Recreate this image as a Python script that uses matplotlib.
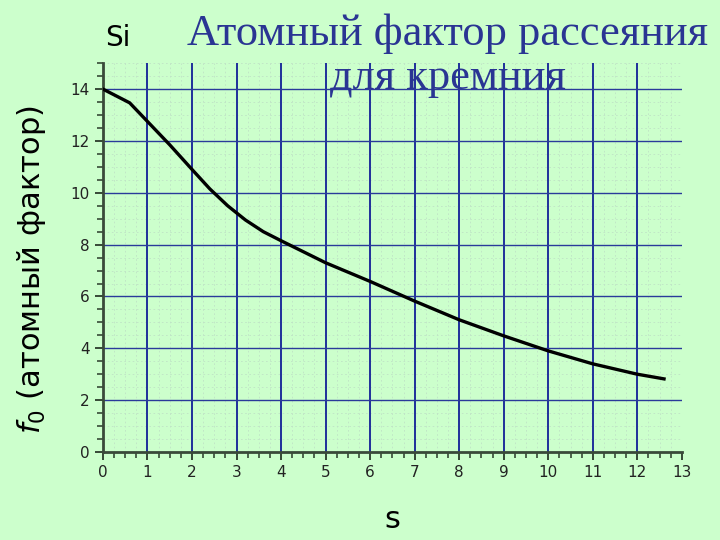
import matplotlib
matplotlib.use("Agg")
import matplotlib.pyplot as plt
from matplotlib.ticker import MultipleLocator
import numpy as np

s_vals = [0.0, 0.6, 1.0, 1.5, 2.0, 2.4, 2.8, 3.2, 3.6, 4.0, 5.0, 6.0, 7.0, 8.0, 9.0, 10.0, 11.0, 12.0, 12.6]
f0_vals = [14.0, 13.47, 12.75, 11.85, 10.9, 10.15, 9.5, 8.95, 8.5, 8.15, 7.3, 6.58, 5.82, 5.1, 4.48, 3.9, 3.4, 3.0, 2.82]

title_text = "Атомный фактор рассеяния\nдля кремния"
element_label = "Si"
x_label = "s"
y_label = r"$f_0$ (атомный фактор)"

bg = "#ccffcc"
fig = plt.figure(figsize=(7.2, 5.4), dpi=100, facecolor=bg)
ax = fig.add_axes([0.143, 0.163, 0.804, 0.72])
ax.set_facecolor(bg)
ax.set_axisbelow(True)

ax.plot(s_vals, f0_vals, color="black", lw=2.4, zorder=5, solid_joinstyle="round")

ax.set_xlim(0, 13)
ax.set_ylim(0, 15)
ax.xaxis.set_major_locator(MultipleLocator(1))
ax.xaxis.set_minor_locator(MultipleLocator(0.25))
ax.yaxis.set_major_locator(MultipleLocator(2))
ax.yaxis.set_minor_locator(MultipleLocator(0.5))

# faint minor grid (drawn by axis, below everything)
ax.grid(which="minor", color="#bfe3c6", lw=0.6, ls=(0, (2, 3)))

# major grid lines above the minor grid
for xv in ax.get_xticks():
    if 0 < xv <= 12:
        ax.axvline(xv, color="#1f2f9a", lw=1.4, zorder=2)
for yv in ax.get_yticks():
    if 0 < yv <= 14:
        ax.axhline(yv, color="#2a3a9a", lw=1.0, zorder=2)

for sp in ["top", "right"]:
    ax.spines[sp].set_visible(False)
for sp in ["left", "bottom"]:
    ax.spines[sp].set_color("#3a4a3a")
    ax.spines[sp].set_linewidth(2)
    ax.spines[sp].set_zorder(3)

ax.tick_params(which="major", direction="out", length=6, width=1.3, color="#2a3a2a",
               labelsize=11, labelcolor="#222222")
ax.tick_params(which="minor", direction="out", length=4, width=1.1, color="#2a3a2a")

ax.set_xlabel(x_label, fontsize=22, family="DejaVu Sans", labelpad=18)
ax.set_ylabel(y_label, fontsize=22, family="DejaVu Sans")
ax.yaxis.set_label_coords(-0.095, 0.47)

fig.text(0.163, 0.93, element_label, fontsize=20, family="DejaVu Sans", ha="center", va="center")
fig.text(0.622, 0.897, title_text, fontsize=32, family="Liberation Serif", color="#2a3593",
         ha="center", va="center", linespacing=1.12, zorder=10)

fig.savefig("out.png", dpi=100, facecolor=bg)
